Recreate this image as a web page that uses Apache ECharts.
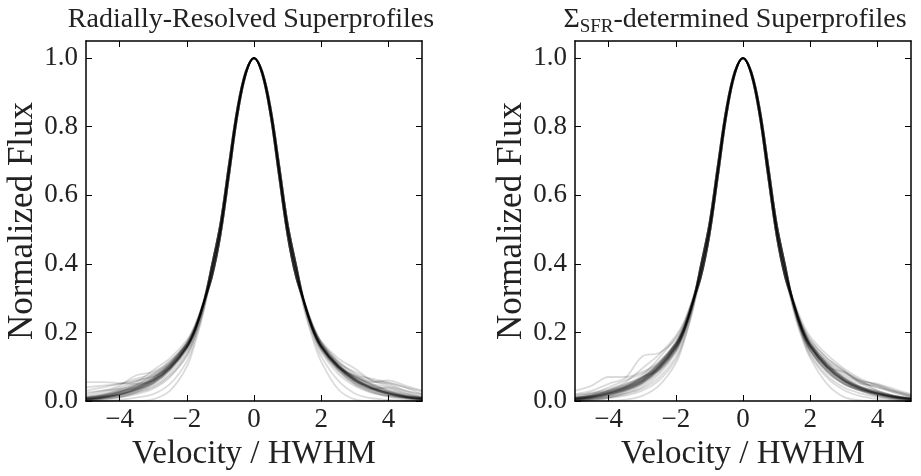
<!DOCTYPE html>
<html>
<head>
<meta charset="utf-8">
<script src="https://cdn.jsdelivr.net/npm/echarts@6/dist/echarts.min.js"></script>
<style>
html,body{margin:0;padding:0;background:#fff;}
#chart{width:921px;height:476px;}
</style>
</head>
<body>
<div id="chart"></div>
<script>
// ---- Data ----
const xTicks = [-4, -2, 0, 2, 4];
const yTicks = [0, 0.2, 0.4, 0.6, 0.8, 1.0];

const velocityLeftWing = [-5, -4.5, -4, -3.5, -3, -2.5, -2, -1.75, -1.5];
const velocityCore = [-1.25, -1, -0.75, -0.5, -0.25, 0, 0.25, 0.5, 0.75, 1, 1.25];
const velocityRightWing = [1.5, 1.75, 2, 2.5, 3, 3.5, 4, 4.5, 5];
// three slightly different cores seen in the thick central band
const coreFluxMid    = [0.380, 0.500, 0.670, 0.840, 0.955, 1.0, 0.955, 0.840, 0.670, 0.500, 0.380];
const coreFluxNarrow = [0.362, 0.482, 0.652, 0.828, 0.950, 1.0, 0.950, 0.828, 0.652, 0.482, 0.362];
const coreFluxWide   = [0.398, 0.518, 0.688, 0.852, 0.960, 1.0, 0.960, 0.852, 0.688, 0.518, 0.398];

// Radially-resolved superprofiles: wing fluxes (left wing from -5 to -1.5, right wing from 1.5 to 5)
const radialLeftWings = [
  [0.006,0.012,0.022,0.037,0.060,0.100,0.160,0.210,0.285],
  [0.004,0.010,0.018,0.032,0.052,0.090,0.150,0.205,0.282],
  [0.010,0.016,0.028,0.046,0.070,0.112,0.170,0.218,0.290],
  [0.055,0.055,0.052,0.050,0.062,0.098,0.158,0.208,0.284],
  [0.002,0.006,0.014,0.026,0.044,0.080,0.140,0.195,0.275],
  [0.020,0.030,0.045,0.075,0.085,0.115,0.172,0.220,0.290],
  [0.000,0.000,0.000,0.000,0.005,0.030,0.100,0.170,0.260],
  [0.030,0.040,0.050,0.065,0.080,0.118,0.165,0.212,0.286],
  [0.010,0.020,0.035,0.055,0.090,0.125,0.178,0.222,0.292],
  [0.004,0.008,0.012,0.024,0.040,0.074,0.130,0.190,0.272],
  [0.012,0.018,0.030,0.040,0.066,0.105,0.162,0.212,0.287],
  [0.000,0.004,0.010,0.020,0.036,0.070,0.135,0.190,0.270],
  [0.040,0.045,0.050,0.058,0.075,0.110,0.165,0.214,0.288],
  [0.008,0.014,0.026,0.040,0.064,0.104,0.166,0.214,0.286],
  [0.005,0.010,0.025,0.048,0.078,0.110,0.170,0.220,0.290],
  [0.000,0.000,0.004,0.010,0.020,0.050,0.115,0.180,0.265],
  [0.015,0.025,0.040,0.060,0.072,0.100,0.155,0.205,0.283],
  [0.006,0.012,0.020,0.036,0.058,0.096,0.158,0.208,0.284],
  [0.002,0.008,0.018,0.030,0.050,0.088,0.148,0.200,0.280],
  [0.010,0.018,0.032,0.050,0.070,0.105,0.160,0.210,0.285],
  [0.025,0.030,0.035,0.045,0.060,0.095,0.155,0.205,0.284],
  [0.000,0.004,0.012,0.026,0.050,0.092,0.155,0.205,0.283],
  [0.005,0.011,0.020,0.035,0.058,0.098,0.158,0.209,0.284],
  [0.007,0.013,0.024,0.039,0.062,0.102,0.162,0.211,0.286],
  [0.003,0.009,0.017,0.031,0.054,0.094,0.154,0.206,0.283],
  [0.008,0.015,0.026,0.041,0.064,0.104,0.163,0.212,0.286],
  [0.006,0.012,0.021,0.036,0.059,0.097,0.157,0.208,0.285],
  [0.004,0.010,0.019,0.034,0.056,0.095,0.156,0.207,0.284],
  [0.009,0.016,0.027,0.043,0.066,0.106,0.165,0.213,0.287],
  [0.005,0.010,0.018,0.033,0.055,0.096,0.157,0.208,0.285]
];
const radialRightWings = [
  [0.285,0.210,0.160,0.100,0.060,0.037,0.022,0.012,0.006],
  [0.288,0.215,0.168,0.108,0.066,0.040,0.024,0.013,0.007],
  [0.280,0.205,0.152,0.092,0.052,0.030,0.018,0.010,0.004],
  [0.286,0.212,0.162,0.104,0.072,0.058,0.050,0.030,0.020],
  [0.290,0.220,0.172,0.118,0.080,0.050,0.030,0.016,0.008],
  [0.290,0.220,0.175,0.125,0.095,0.060,0.045,0.030,0.015],
  [0.265,0.180,0.115,0.035,0.005,0.000,0.000,0.000,0.000],
  [0.284,0.208,0.156,0.095,0.055,0.035,0.040,0.025,0.010],
  [0.290,0.218,0.170,0.112,0.085,0.062,0.052,0.040,0.028],
  [0.276,0.198,0.142,0.080,0.044,0.024,0.014,0.008,0.004],
  [0.287,0.212,0.163,0.105,0.065,0.045,0.035,0.020,0.010],
  [0.280,0.200,0.148,0.088,0.048,0.026,0.016,0.010,0.006],
  [0.288,0.216,0.168,0.110,0.070,0.055,0.060,0.045,0.030],
  [0.284,0.206,0.158,0.100,0.062,0.040,0.026,0.014,0.008],
  [0.290,0.222,0.170,0.115,0.075,0.045,0.028,0.016,0.010],
  [0.270,0.190,0.130,0.060,0.022,0.008,0.004,0.000,0.000],
  [0.283,0.205,0.155,0.098,0.070,0.050,0.040,0.022,0.012],
  [0.286,0.212,0.160,0.102,0.064,0.038,0.022,0.012,0.005],
  [0.282,0.204,0.154,0.096,0.058,0.034,0.018,0.008,0.002],
  [0.285,0.210,0.160,0.105,0.070,0.048,0.030,0.018,0.010],
  [0.284,0.210,0.158,0.100,0.075,0.065,0.055,0.040,0.020],
  [0.283,0.205,0.150,0.090,0.050,0.028,0.012,0.004,0.000],
  [0.286,0.211,0.161,0.101,0.061,0.036,0.021,0.011,0.005],
  [0.284,0.209,0.159,0.099,0.059,0.038,0.023,0.013,0.007],
  [0.287,0.213,0.164,0.104,0.064,0.039,0.023,0.012,0.004],
  [0.283,0.207,0.157,0.097,0.057,0.034,0.020,0.010,0.005],
  [0.285,0.210,0.160,0.102,0.063,0.040,0.025,0.014,0.008],
  [0.286,0.212,0.162,0.103,0.062,0.037,0.021,0.010,0.004],
  [0.284,0.208,0.158,0.098,0.058,0.036,0.022,0.013,0.008],
  [0.285,0.211,0.162,0.104,0.066,0.042,0.026,0.015,0.009]
];

// SFR-determined superprofiles
const sfrLeftWings = [
  [0.006,0.012,0.022,0.037,0.060,0.100,0.160,0.210,0.285],
  [0.004,0.010,0.020,0.034,0.058,0.098,0.160,0.212,0.288],
  [0.010,0.020,0.040,0.060,0.080,0.110,0.168,0.218,0.290],
  [0.020,0.030,0.050,0.068,0.130,0.140,0.180,0.225,0.295],
  [0.030,0.045,0.070,0.070,0.085,0.115,0.170,0.220,0.290],
  [0.000,0.000,0.000,0.004,0.015,0.045,0.110,0.175,0.262],
  [0.002,0.006,0.012,0.022,0.040,0.078,0.140,0.196,0.276],
  [0.012,0.020,0.030,0.048,0.075,0.125,0.185,0.228,0.295],
  [0.006,0.012,0.024,0.040,0.065,0.105,0.165,0.212,0.286],
  [0.000,0.004,0.010,0.020,0.036,0.068,0.128,0.186,0.270],
  [0.015,0.025,0.035,0.050,0.068,0.100,0.158,0.208,0.284],
  [0.004,0.008,0.016,0.030,0.052,0.092,0.150,0.202,0.280],
  [0.008,0.016,0.032,0.055,0.095,0.135,0.190,0.232,0.298],
  [0.000,0.002,0.008,0.016,0.030,0.060,0.120,0.180,0.266],
  [0.010,0.016,0.028,0.042,0.062,0.100,0.162,0.210,0.286],
  [0.006,0.012,0.022,0.036,0.058,0.095,0.155,0.205,0.283],
  [0.018,0.022,0.030,0.045,0.070,0.108,0.168,0.216,0.288],
  [0.002,0.006,0.014,0.028,0.050,0.088,0.145,0.198,0.278],
  [0.008,0.014,0.024,0.040,0.068,0.112,0.172,0.220,0.291],
  [0.004,0.010,0.020,0.034,0.054,0.092,0.152,0.204,0.282],
  [0.010,0.015,0.025,0.040,0.070,0.090,0.150,0.205,0.284],
  [0.000,0.003,0.010,0.024,0.046,0.084,0.146,0.200,0.279],
  [0.005,0.011,0.021,0.036,0.059,0.099,0.159,0.210,0.285],
  [0.007,0.014,0.025,0.040,0.063,0.103,0.163,0.212,0.287],
  [0.003,0.008,0.016,0.030,0.053,0.093,0.153,0.205,0.283],
  [0.008,0.015,0.027,0.042,0.066,0.106,0.166,0.214,0.288],
  [0.005,0.010,0.019,0.034,0.056,0.096,0.156,0.207,0.284],
  [0.006,0.013,0.023,0.038,0.061,0.101,0.161,0.211,0.286],
  [0.004,0.009,0.018,0.032,0.055,0.095,0.155,0.206,0.284],
  [0.009,0.017,0.029,0.045,0.068,0.108,0.167,0.215,0.288]
];
const sfrRightWings = [
  [0.285,0.210,0.160,0.100,0.060,0.037,0.022,0.012,0.006],
  [0.288,0.214,0.166,0.106,0.064,0.038,0.022,0.012,0.006],
  [0.282,0.204,0.150,0.090,0.050,0.030,0.016,0.008,0.003],
  [0.290,0.225,0.180,0.125,0.090,0.055,0.040,0.028,0.015],
  [0.290,0.220,0.172,0.118,0.085,0.060,0.048,0.030,0.018],
  [0.265,0.185,0.125,0.050,0.012,0.002,0.000,0.000,0.000],
  [0.292,0.222,0.178,0.125,0.088,0.052,0.030,0.016,0.008],
  [0.280,0.200,0.148,0.085,0.050,0.032,0.020,0.010,0.004],
  [0.286,0.212,0.165,0.108,0.070,0.050,0.045,0.030,0.014],
  [0.274,0.195,0.138,0.075,0.040,0.022,0.012,0.006,0.002],
  [0.288,0.218,0.170,0.112,0.075,0.055,0.040,0.025,0.012],
  [0.284,0.206,0.155,0.095,0.058,0.034,0.020,0.010,0.004],
  [0.296,0.232,0.188,0.135,0.095,0.065,0.045,0.025,0.012],
  [0.270,0.190,0.132,0.068,0.032,0.014,0.006,0.002,0.000],
  [0.286,0.210,0.160,0.100,0.062,0.040,0.026,0.014,0.006],
  [0.283,0.206,0.156,0.098,0.060,0.036,0.022,0.012,0.006],
  [0.290,0.220,0.170,0.115,0.080,0.058,0.050,0.035,0.020],
  [0.278,0.198,0.145,0.085,0.050,0.030,0.018,0.008,0.002],
  [0.290,0.216,0.165,0.108,0.068,0.042,0.028,0.016,0.008],
  [0.282,0.202,0.150,0.092,0.056,0.034,0.020,0.010,0.004],
  [0.286,0.210,0.160,0.100,0.085,0.060,0.030,0.015,0.008],
  [0.280,0.200,0.146,0.088,0.052,0.030,0.014,0.004,0.000],
  [0.286,0.212,0.162,0.102,0.062,0.038,0.022,0.012,0.006],
  [0.284,0.208,0.158,0.098,0.058,0.035,0.021,0.011,0.005],
  [0.287,0.214,0.165,0.106,0.066,0.041,0.025,0.014,0.007],
  [0.283,0.206,0.156,0.096,0.056,0.033,0.019,0.009,0.004],
  [0.285,0.210,0.161,0.103,0.064,0.040,0.024,0.013,0.007],
  [0.286,0.211,0.161,0.101,0.061,0.037,0.022,0.011,0.005],
  [0.284,0.209,0.159,0.099,0.060,0.037,0.023,0.013,0.007],
  [0.288,0.215,0.166,0.107,0.067,0.042,0.026,0.015,0.008]
];

// ---- Build chart ----
const FONT = "'Liberation Serif', 'DejaVu Serif', serif";
const TEXT = '#222';
const chart = echarts.init(document.getElementById('chart'), null, {renderer: 'canvas'});
const cores = [coreFluxMid, coreFluxNarrow, coreFluxWide];

function profile(leftWing, rightWing, core) {
  const pts = [];
  velocityLeftWing.forEach((v, i) => pts.push([v, leftWing[i]]));
  velocityCore.forEach((v, i) => pts.push([v, core[i]]));
  velocityRightWing.forEach((v, i) => pts.push([v, rightWing[i]]));
  return pts;
}

const grids = [
  {left: 86, top: 41, width: 336, height: 360},
  {left: 575, top: 41, width: 336, height: 360}
];

function fmtX(v) { return v < 0 ? '\u2212' + Math.abs(v) : String(v); }

const xAxes = [], yAxes = [];
[0, 1].forEach(g => {
  xAxes.push({
    type: 'value', gridIndex: g, min: -5, max: 5, position: 'bottom',
    name: 'Velocity / HWHM', nameLocation: 'middle', nameGap: 29,
    nameTextStyle: {fontFamily: FONT, fontSize: 33, color: TEXT},
    axisLine: {onZero: false, lineStyle: {color: '#000', width: 1.5}},
    axisTick: {inside: true, length: 6, lineStyle: {color: '#000', width: 1}, customValues: xTicks},
    axisLabel: {fontFamily: FONT, fontSize: 27, color: TEXT, margin: 5, customValues: xTicks, formatter: fmtX},
    splitLine: {show: false}
  });
  xAxes.push({
    type: 'value', gridIndex: g, min: -5, max: 5, position: 'top',
    axisLine: {onZero: false, lineStyle: {color: '#000', width: 1.5}},
    axisTick: {inside: true, length: 6, lineStyle: {color: '#000', width: 1}, customValues: xTicks},
    axisLabel: {show: false},
    splitLine: {show: false}
  });
  yAxes.push({
    type: 'value', gridIndex: g, min: 0, max: 1.05, position: 'left',
    name: 'Normalized Flux', nameLocation: 'middle', nameGap: 43,
    nameTextStyle: {fontFamily: FONT, fontSize: 35, color: TEXT},
    axisLine: {onZero: false, lineStyle: {color: '#000', width: 1.5}},
    axisTick: {inside: true, length: 6, lineStyle: {color: '#000', width: 1}, customValues: yTicks},
    axisLabel: {fontFamily: FONT, fontSize: 27, color: TEXT, margin: 8, customValues: yTicks,
      formatter: v => Number(v).toFixed(1)},
    splitLine: {show: false}
  });
  yAxes.push({
    type: 'value', gridIndex: g, min: 0, max: 1.05, position: 'right',
    axisLine: {onZero: false, lineStyle: {color: '#000', width: 1.5}},
    axisTick: {inside: true, length: 6, lineStyle: {color: '#000', width: 1}, customValues: yTicks},
    axisLabel: {show: false},
    splitLine: {show: false}
  });
});

const series = [];
function addPanel(leftWings, rightWings, g) {
  leftWings.forEach((lw, i) => {
    series.push({
      type: 'line', xAxisIndex: g * 2, yAxisIndex: g * 2,
      data: profile(lw, rightWings[i], cores[i % 3]),
      showSymbol: false, symbol: 'none', smooth: 0.35, silent: true,
      lineStyle: {color: 'rgba(0,0,0,0.14)', width: 1.8},
      z: 1
    });
  });
}
addPanel(radialLeftWings, radialRightWings, 0);
addPanel(sfrLeftWings, sfrRightWings, 1);

chart.setOption({
  animation: false,
  backgroundColor: '#fff',
  grid: grids,
  xAxis: xAxes,
  yAxis: yAxes,
  series: series,
  graphic: [
    {type: 'text', x: 251, y: 20, style: {
      text: 'Radially-Resolved Superprofiles', fontFamily: FONT, fontSize: 28,
      fill: TEXT, align: 'center', verticalAlign: 'middle'}},
    {type: 'text', x: 735, y: 20, style: {
      text: '{m|\u03A3}{s|SFR}{m|-determined Superprofiles}',
      align: 'center', verticalAlign: 'middle', fill: TEXT,
      rich: {
        m: {fontFamily: FONT, fontSize: 28, lineHeight: 34, verticalAlign: 'middle', fill: TEXT, color: TEXT},
        s: {fontFamily: FONT, fontSize: 19, lineHeight: 19, verticalAlign: 'bottom', fill: TEXT, color: TEXT}
      }}}
  ]
});
</script>
</body>
</html>
